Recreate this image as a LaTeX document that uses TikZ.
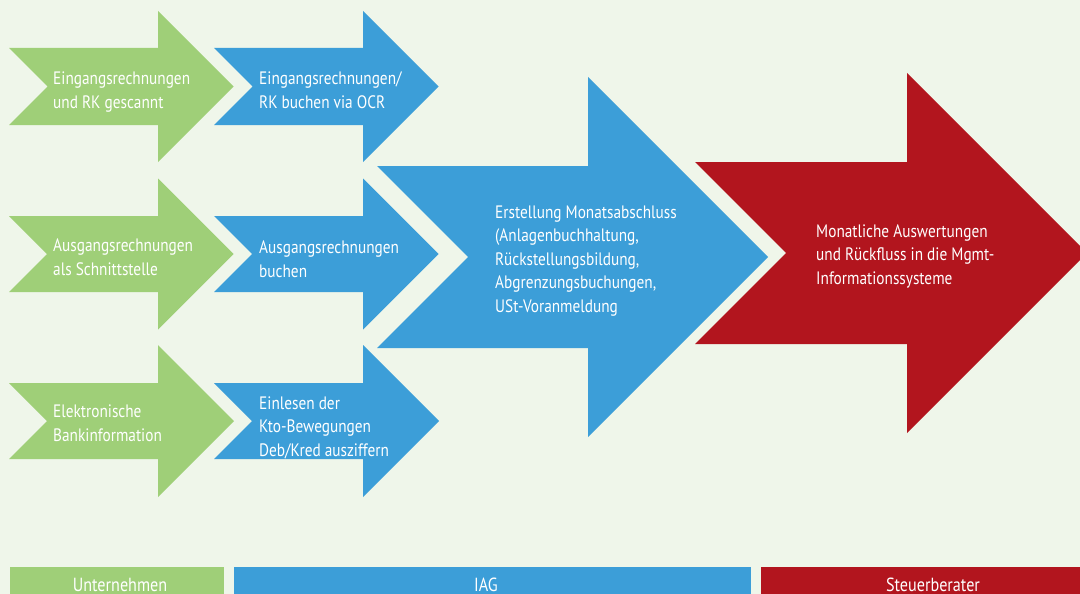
\documentclass[tikz,border=0pt]{standalone}
\usepackage{fontspec}
\setmainfont{PT Sans}[FakeStretch=0.85]
\definecolor{bgc}{RGB}{239,246,234}
\definecolor{grn}{RGB}{159,207,120}
\definecolor{blu}{RGB}{60,158,216}
\definecolor{rdd}{RGB}{178,21,30}
% #1 left x, #2 center y, #3 head start x, #4 shaft half height, #5 head half height, #6 colour
\newcommand{\procarrow}[6]{%
  \fill[#6] (#1,#2-#4) -- (#3,#2-#4) -- (#3,#2-#5) -- (#3+#5,#2) -- (#3,#2+#5)
    -- (#3,#2+#4) -- (#1,#2+#4) -- (#1+#4,#2) -- cycle;}
\begin{document}
\begin{tikzpicture}[x=1pt,y=-1pt,
  txt/.style={text=white, align=left, inner sep=0pt,
    font=\fontsize{18}{23.5}\selectfont, anchor=base west},
  bartxt/.style={text=white, inner sep=0pt,
    font=\fontsize{19}{22}\selectfont, anchor=base}]
\useasboundingbox (0,0) rectangle (1080,594);
\fill[bgc] (0,0) rectangle (1080,594);
% small arrows
\procarrow{9}{86.5}{158}{38.5}{75.5}{grn}
\procarrow{214}{86.5}{363}{38.5}{75.5}{blu}
\procarrow{9}{254}{158}{38}{75.5}{grn}
\procarrow{214}{254}{363}{38}{75.5}{blu}
\procarrow{9}{421}{158}{38}{76}{grn}
\procarrow{214}{421}{363}{38}{76}{blu}
% big arrows
\procarrow{377}{257}{588}{91}{180}{blu}
\procarrow{695}{253}{907}{91}{180}{rdd}
% texts (anchor at the baseline of the last line)
\node[txt] (g1) at (53,108) {Eingangsrechnungen\\und RK gescannt};
\node[txt] (b1) at (259,108) {Eingangsrechnungen/\\RK buchen via OCR};
\node[txt] (g2) at (53,275) {Ausgangsrechnungen\\als Schnittstelle};
\node[txt] (b2) at (259,277) {Ausgangsrechnungen\\buchen};
\node[txt] (g3) at (53,441) {Elektronische\\Bankinformation};
\node[txt] (b3) at (259,456) {Einlesen der\\Kto-Bewegungen\\Deb/Kred ausziffern};
\node[txt] (bb) at (495,312) {Erstellung Monatsabschluss\\(Anlagenbuchhaltung,\\Rückstellungsbildung,\\Abgrenzungsbuchungen,\\USt-Voranmeldung};
\node[txt] (rr) at (816,284) {Monatliche Auswertungen\\und Rückfluss in die Mgmt-\\Informationssysteme};
% bottom bars
\fill[grn] (10,567) rectangle (224,600);
\fill[blu] (234,567) rectangle (751,600);
\fill[rdd] (761,567) rectangle (1100,600);
\node[bartxt] (l1) at (120,591) {Unternehmen};
\node[bartxt] (l2) at (486,591) {IAG};
\node[bartxt] (l3) at (933,591) {Steuerberater};
\end{tikzpicture}
\end{document}
